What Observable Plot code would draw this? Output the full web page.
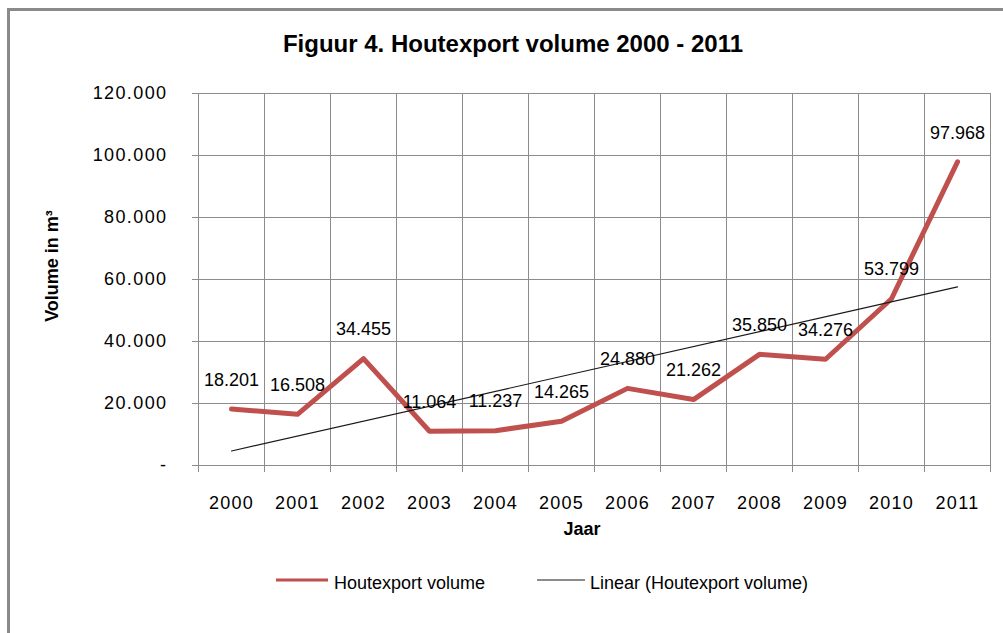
<!DOCTYPE html>
<html>
<head>
<meta charset="utf-8">
<script src="https://cdn.jsdelivr.net/npm/d3@7"></script>
<script src="https://cdn.jsdelivr.net/npm/@observablehq/plot@0.6"></script>
<style>
  html, body { margin: 0; padding: 0; background: #fff; }
  #wrap { position: relative; width: 1003px; height: 633px; overflow: hidden; background: #fff; }
  #frame { position: absolute; left: 7px; top: 8px; width: 1100px; height: 700px;
           border-top: 3px solid #8a8a8a; border-left: 3px solid #8a8a8a; }
  #chart { position: absolute; left: 0; top: 0; }
  #overlay { position: absolute; left: 0; top: 0; pointer-events: none; }
  #chart g[aria-label="y-axis tick label"] text { letter-spacing: 1.4px; }
  #chart g[aria-label="x-axis tick label"] text { letter-spacing: 1.3px; }
</style>
</head>
<body>
<div id="wrap">
  <div id="frame"></div>
  <div id="chart"></div>
  <svg id="overlay" width="1003" height="633" xmlns="http://www.w3.org/2000/svg"
       font-family="'Liberation Sans', Arial, sans-serif" fill="#000">
    <text x="513" y="52" text-anchor="middle" font-family="'Liberation Sans Narrow', 'Liberation Sans', Arial, sans-serif"
          font-weight="bold" font-size="24">Figuur 4. Houtexport volume 2000 - 2011</text>
    <text transform="translate(58,266) rotate(-90)" text-anchor="middle" font-weight="bold" font-size="18">Volume in m³</text>
    <text x="582" y="535" text-anchor="middle" font-weight="bold" font-size="18">Jaar</text>
    <line x1="276" x2="328" y1="580" y2="580" stroke="#C0504D" stroke-width="3"/>
    <text x="334" y="589" font-size="18">Houtexport volume</text>
    <line x1="537" x2="585" y1="580" y2="580" stroke="#1a1a1a" stroke-width="1"/>
    <text x="590" y="589" font-size="18">Linear (Houtexport volume)</text>
  </svg>
</div>
<script>
// ---- data ----
const years = [2000, 2001, 2002, 2003, 2004, 2005, 2006, 2007, 2008, 2009, 2010, 2011];
const volumes = [18201, 16508, 34455, 11064, 11237, 14265, 24880, 21262, 35850, 34276, 53799, 97968];
const yTicks = [0, 20000, 40000, 60000, 80000, 100000, 120000];

const data = years.map((year, i) => ({year, volume: volumes[i]}));
const bounds = [...years.map(y => y - 0.5), years[years.length - 1] + 0.5];

const nl = d3.formatLocale({decimal: ",", thousands: ".", grouping: [3], currency: ["", ""]});
const fmt = nl.format(",d");
const yFmt = v => v === 0 ? "-" : fmt(v);

const grid = "#8c8c8c";

const chart = Plot.plot({
  width: 1003,
  height: 633,
  marginLeft: 198,
  marginRight: 13,
  marginTop: 93,
  marginBottom: 168,
  x: {type: "linear", domain: [bounds[0], bounds[bounds.length - 1]]},
  y: {domain: [0, 120000]},
  style: {
    fontFamily: "'Liberation Sans', Arial, sans-serif",
    fontSize: "18px",
    color: "#000",
    background: "transparent",
    overflow: "visible"
  },
  marks: [
    Plot.ruleY(yTicks, {y: d => d, stroke: grid, strokeWidth: 1}),
    Plot.ruleX(bounds, {x: d => d, stroke: grid, strokeWidth: 1}),
    Plot.axisX(bounds, {tickSize: 7, tickFormat: () => "", stroke: grid, label: null}),
    Plot.axisX(years, {tickSize: 0, tickPadding: 31, tickFormat: d => String(d), label: null}),
    Plot.axisY(yTicks, {tickSize: 6, tickPadding: 25, tickFormat: yFmt, stroke: grid, label: null}),
    Plot.line(data, {x: "year", y: "volume", stroke: "#C0504D", strokeWidth: 5}),
    Plot.linearRegressionY(data, {x: "year", y: "volume", stroke: "#1a1a1a", strokeWidth: 1.2, ci: 0}),
    Plot.text(data, {x: "year", y: "volume", text: d => fmt(d.volume), dy: -29, fill: "#000"})
  ]
});
document.getElementById("chart").appendChild(chart);
</script>
</body>
</html>
